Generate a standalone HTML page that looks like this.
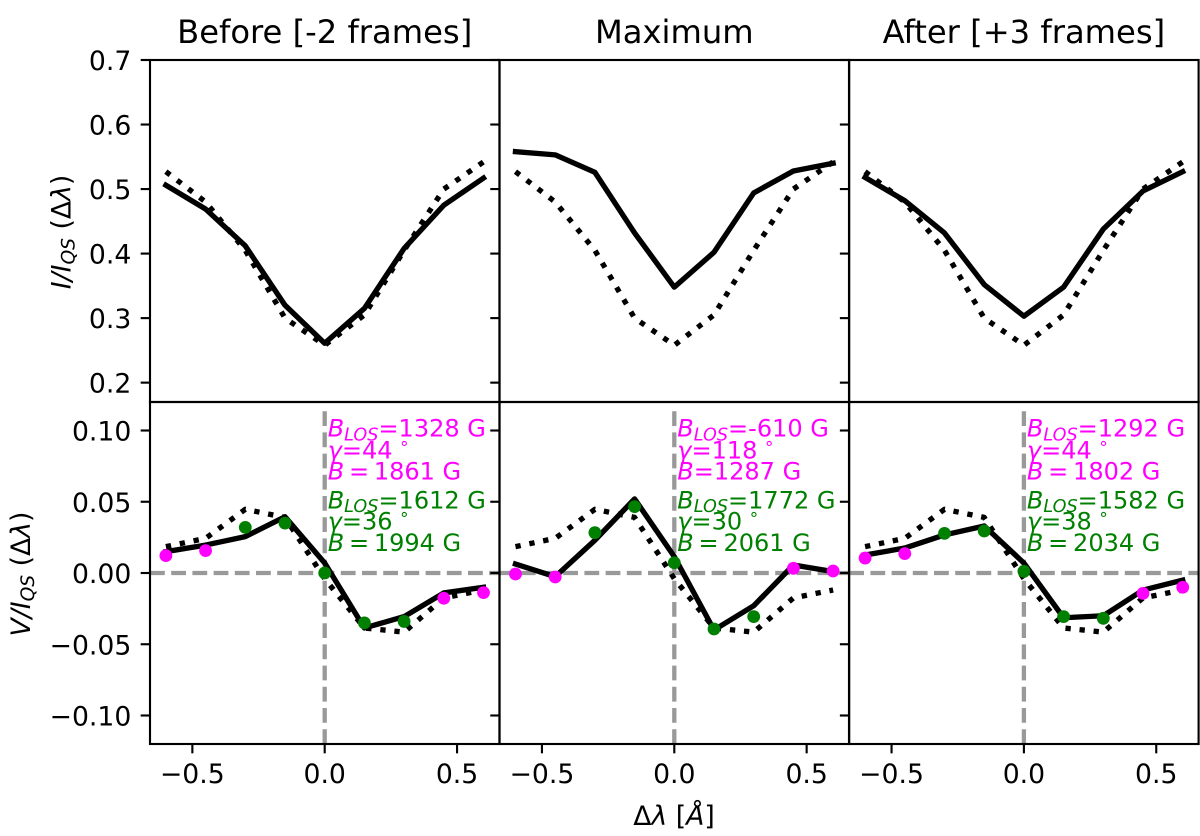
<!DOCTYPE html>
<html>
<head>
<meta charset="utf-8">
<title>Line profiles before, at and after maximum</title>
<style>
html,body{margin:0;padding:0;background:#fff;}
svg{display:block;}
text{font-family:"DejaVu Sans","Liberation Sans",sans-serif;fill:#000;white-space:pre;}
</style>
</head>
<body>
<svg id="chart" xmlns="http://www.w3.org/2000/svg" width="1200" height="836" viewBox="0 0 1200 836"></svg>
<script>
const wavelengths = [-0.6, -0.45, -0.3, -0.15, 0, 0.15, 0.3, 0.45, 0.6];
const panelTitles = ["Before [-2 frames]", "Maximum", "After [+3 frames]"];
const panelKeys = ["before", "maximum", "after"];

const referenceI = [0.527, 0.480, 0.405, 0.300, 0.258, 0.305, 0.405, 0.500, 0.542];
const referenceV = [0.0185, 0.0243, 0.0447, 0.039, -0.004, -0.0386, -0.0415, -0.0175, -0.0119];

const beforeI = [0.506, 0.469, 0.412, 0.320, 0.261, 0.315, 0.408, 0.475, 0.517];
const maximumI = [0.558, 0.553, 0.526, 0.432, 0.348, 0.402, 0.494, 0.528, 0.540];
const afterI = [0.518, 0.482, 0.432, 0.352, 0.303, 0.348, 0.438, 0.497, 0.527];

const beforeV = [0.015, 0.0196, 0.0255, 0.0395, 0.007, -0.0386, -0.0306, -0.014, -0.010];
const maximumV = [0.0063, -0.0026, 0.023, 0.052, 0.0115, -0.040, -0.023, 0.0056, 0.001];
const afterV = [0.0126, 0.0175, 0.0267, 0.033, 0.007, -0.0314, -0.030, -0.012, -0.005];

const beforeFit = [0.0122, 0.0157, 0.032, 0.035, 0.0, -0.035, -0.034, -0.0177, -0.0138];
const maximumFit = [-0.0007, -0.0028, 0.0283, 0.0466, 0.0072, -0.0393, -0.0306, 0.0033, 0.0014];
const afterFit = [0.0105, 0.0136, 0.0278, 0.0295, 0.0012, -0.0306, -0.0318, -0.0143, -0.010];

const fitColors = ["#ff00ff", "#ff00ff", "#008000", "#008000", "#008000", "#008000", "#008000", "#ff00ff", "#ff00ff"];

const xTicks = [-0.5, 0, 0.5];
const xTickLabels = ["\u22120.5", "0.0", "0.5"];
const iTicks = [0.2, 0.3, 0.4, 0.5, 0.6, 0.7];
const iTickLabels = ["0.2", "0.3", "0.4", "0.5", "0.6", "0.7"];
const vTicks = [-0.1, -0.05, 0, 0.05, 0.1];
const vTickLabels = ["\u22120.10", "\u22120.05", "0.00", "0.05", "0.10"];

const losMagenta = ["=1328 G", "=-610 G", "=1292 G"];
const gammaMagenta = ["=44", "=118", "=44"];
const totalMagenta = ["\u2009=\u20091861 G", "=1287 G", "\u2009=\u20091802 G"];
const losGreen = ["=1612 G", "=1772 G", "=1582 G"];
const gammaGreen = ["=36", "=30", "=38"];
const totalGreen = ["\u2009=\u20091994 G", "\u2009=\u20092061 G", "\u2009=\u20092034 G"];

const intensitySeries = [beforeI, maximumI, afterI];
const stokesSeries = [beforeV, maximumV, afterV];
const fitSeries = [beforeFit, maximumFit, afterFit];

const NS = "http://www.w3.org/2000/svg";
const svg = document.getElementById("chart");
const panelLefts = [150, 499.6, 849.2];
const panelWidth = 349.4;
const topY = 60, midY = 402, botY = 744;
const xMin = -0.66, xMax = 0.66;
const iMin = 0.17, iMax = 0.70;
const vMin = -0.12, vMax = 0.12;
const lw = 5.33;
const spineW = 2.13;
const tickLen = 9.33;
const labelSize = 26.67;
const noteSize = 24;

function xPos(panel, v) {
  return panelLefts[panel] + (v - xMin) / (xMax - xMin) * panelWidth;
}
function yI(v) {
  return midY - (v - iMin) / (iMax - iMin) * (midY - topY);
}
function yV(v) {
  return botY - (v - vMin) / (vMax - vMin) * (botY - midY);
}
function make(tag, attrs, parent) {
  const el = document.createElementNS(NS, tag);
  for (const k in attrs) el.setAttribute(k, attrs[k]);
  (parent || svg).appendChild(el);
  return el;
}
function seriesLine(panel, values, yFn, dotted, name) {
  const pts = values.map((v, i) => xPos(panel, wavelengths[i]).toFixed(2) + "," + yFn(v).toFixed(2)).join(" ");
  const line = make("polyline", {
    points: pts, fill: "none", stroke: "#000", "stroke-width": lw,
    "stroke-linejoin": "round",
    "stroke-linecap": dotted ? "butt" : "square"
  });
  if (dotted) line.setAttribute("stroke-dasharray", "5.33 8.8");
  
  
}
function guide(x1, y1, x2, y2, name) {
  const g = make("line", {
    x1: x1, y1: y1, x2: x2, y2: y2, stroke: "#999999",
    "stroke-width": 4.3, "stroke-dasharray": "14.8 6.4"
  });
  
  
}
function tick(x1, y1, x2, y2, name) {
  const t = make("line", { x1: x1, y1: y1, x2: x2, y2: y2, stroke: "#000", "stroke-width": spineW });
  
  
}
function label(x, y, str, anchor, name) {
  const t = make("text", { x: x, y: y, "font-size": labelSize, "text-anchor": anchor });
  t.textContent = str;
  
  
}
function frame(x, y, w, h, name) {
  const r = make("rect", { x: x, y: y, width: w, height: h, fill: "none", stroke: "#000", "stroke-width": spineW });
  
  
}
function span(parent, str, opts) {
  const s = make("tspan", opts || {}, parent);
  s.textContent = str;
  return s;
}
function annotation(x, y, color, kind, text, name) {
  const t = make("text", { x: x, y: y, "font-size": noteSize });
  t.style.fill = color;
  
  
  if (kind === "los") {
    span(t, "B", { "font-style": "italic" });
    span(t, "LOS", { "font-style": "italic", "font-size": 17.6, dy: 3.6 });
    span(t, text, { dy: -3.6 });
  } else if (kind === "gamma") {
    span(t, "\u03b3", { "font-style": "italic" });
    span(t, text + " ");
    span(t, "\u00b0", { "font-size": 16.8, dy: -5 });
  } else {
    span(t, "B", { "font-style": "italic" });
    span(t, text);
  }
}

for (let p = 0; p < 3; p++) {
  const key = panelKeys[p];
  const left = panelLefts[p];
  const zeroX = xPos(p, 0);

  guide(zeroX, botY, zeroX, yV(0.1144), key + "-zero-wavelength-guide");
  guide(left, yV(0), left + panelWidth, yV(0), key + "-zero-signal-guide");

  seriesLine(p, referenceI, yI, true, key + "-reference-intensity-line");
  seriesLine(p, intensitySeries[p], yI, false, key + "-intensity-line");
  seriesLine(p, referenceV, yV, true, key + "-reference-stokes-v-line");
  seriesLine(p, stokesSeries[p], yV, false, key + "-stokes-v-line");

  fitSeries[p].forEach((v, i) => {
    const dot = make("circle", { cx: xPos(p, wavelengths[i]).toFixed(2), cy: yV(v).toFixed(2), r: 6.4, fill: fitColors[i] });
    
    
  });

  const ax = zeroX + 3;
  annotation(ax, 436.7, "#ff00ff", "los", losMagenta[p], key + "-magenta-los-field");
  annotation(ax, 458.3, "#ff00ff", "gamma", gammaMagenta[p], key + "-magenta-inclination");
  annotation(ax, 479.5, "#ff00ff", "total", totalMagenta[p], key + "-magenta-total-field");
  annotation(ax, 508.3, "#008000", "los", losGreen[p], key + "-green-los-field");
  annotation(ax, 529.5, "#008000", "gamma", gammaGreen[p], key + "-green-inclination");
  annotation(ax, 551.2, "#008000", "total", totalGreen[p], key + "-green-total-field");

  frame(left, topY, panelWidth, midY - topY, key + "-intensity-axes");
  frame(left, midY, panelWidth, botY - midY, key + "-stokes-v-axes");

  iTicks.forEach((v, i) => {
    tick(left - tickLen, yI(v), left, yI(v), key + "-intensity-y-tick");
    if (p === 0) label(left - 18.67, yI(v) + 10, iTickLabels[i], "end", "intensity-y-tick-label");
  });
  vTicks.forEach((v, i) => {
    tick(left - tickLen, yV(v), left, yV(v), key + "-stokes-v-y-tick");
    if (p === 0) label(left - 18.67, yV(v) + 10, vTickLabels[i], "end", "stokes-v-y-tick-label");
  });
  xTicks.forEach((v, i) => {
    tick(xPos(p, v), botY, xPos(p, v), botY + tickLen, key + "-x-tick");
    label(xPos(p, v), botY + 39, xTickLabels[i], "middle", key + "-x-tick-label");
  });

  const title = make("text", { x: left + panelWidth / 2, y: 43, "font-size": 32.2, "text-anchor": "middle" });
  title.textContent = panelTitles[p];
  
  
}

const iLabel = make("text", { transform: "translate(70.5 232) rotate(-90)", "font-size": labelSize, "text-anchor": "middle" });


span(iLabel, "I/I", { "font-style": "italic" });
span(iLabel, "QS", { "font-style": "italic", "font-size": 18.67, dy: 4 });
span(iLabel, " (\u0394", { dy: -4 });
span(iLabel, "\u03bb", { "font-style": "italic" });
span(iLabel, ")");

const vLabel = make("text", { transform: "translate(30 574) rotate(-90)", "font-size": labelSize, "text-anchor": "middle" });


span(vLabel, "V/I", { "font-style": "italic" });
span(vLabel, "QS", { "font-style": "italic", "font-size": 18.67, dy: 4 });
span(vLabel, " (\u0394", { dy: -4 });
span(vLabel, "\u03bb", { "font-style": "italic" });
span(vLabel, ")");

const xLabel = make("text", { x: 674, y: 825, "font-size": labelSize, "text-anchor": "middle" });


span(xLabel, "\u0394");
span(xLabel, "\u03bb", { "font-style": "italic" });
span(xLabel, " [");
span(xLabel, "\u00c5", { "font-style": "italic" });
span(xLabel, "]");
</script>
</body>
</html>
